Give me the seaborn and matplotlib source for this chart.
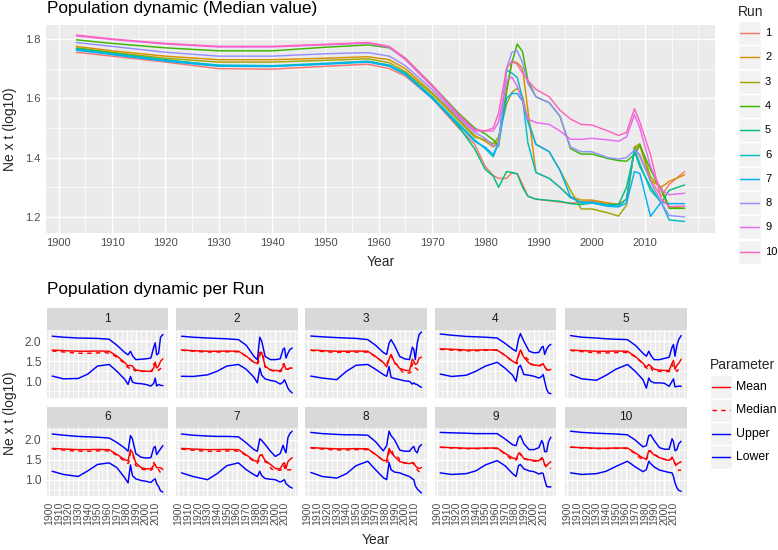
import numpy as np
import pandas as pd
import matplotlib
matplotlib.use("Agg")
import matplotlib.pyplot as plt
import seaborn as sns
from matplotlib.patches import Rectangle
from matplotlib.lines import Line2D

# ---------------- data ----------------
runs = [str(i) for i in range(1, 11)]
run_colors = ["#F8766D", "#D89000", "#A3A500", "#39B600", "#00BF7D",
              "#00BFC4", "#00B0F6", "#9590FF", "#E76BF3", "#FF62BC"]

years_med = [1903.3, 1910, 1920, 1930, 1940, 1950, 1958, 1962, 1965, 1970, 1975, 1978, 1980,
             1981.5, 1982.5, 1984, 1985, 1986, 1987, 1988, 1989.5, 1992, 1994, 1996, 1998,
             2000, 2003, 2005, 2006.5, 2008, 2009, 2011, 2013, 2014.5, 2017.4]

med_1 = [1.755, 1.742, 1.722, 1.700, 1.698, 1.708, 1.715, 1.700, 1.675, 1.600, 1.500, 1.445, 1.370,
         1.340, 1.330, 1.330, 1.349, 1.346, 1.310, 1.270, 1.260, 1.255, 1.250, 1.247, 1.250,
         1.253, 1.247, 1.242, 1.259, 1.436, 1.403, 1.324, 1.270, 1.310, 1.353]
med_2 = [1.775, 1.760, 1.742, 1.730, 1.730, 1.735, 1.740, 1.730, 1.700, 1.620, 1.530, 1.475, 1.455,
         1.436, 1.460, 1.620, 1.725, 1.720, 1.700, 1.560, 1.350, 1.330, 1.300, 1.268, 1.257,
         1.257, 1.247, 1.242, 1.260, 1.430, 1.440, 1.324, 1.300, 1.320, 1.342]
med_3 = [1.770, 1.755, 1.735, 1.722, 1.722, 1.728, 1.733, 1.720, 1.690, 1.615, 1.525, 1.470, 1.460,
         1.447, 1.470, 1.580, 1.620, 1.634, 1.605, 1.530, 1.445, 1.420, 1.358, 1.290, 1.227,
         1.227, 1.214, 1.203, 1.240, 1.436, 1.447, 1.335, 1.300, 1.234, 1.229]
med_4 = [1.797, 1.785, 1.770, 1.760, 1.760, 1.772, 1.780, 1.770, 1.735, 1.645, 1.550, 1.500, 1.480,
         1.460, 1.437, 1.630, 1.720, 1.783, 1.757, 1.660, 1.605, 1.585, 1.540, 1.430, 1.412,
         1.412, 1.397, 1.390, 1.388, 1.410, 1.442, 1.360, 1.290, 1.229, 1.229]
med_5 = [1.768, 1.752, 1.730, 1.710, 1.708, 1.716, 1.724, 1.710, 1.685, 1.605, 1.505, 1.430, 1.360,
         1.338, 1.300, 1.353, 1.350, 1.345, 1.300, 1.270, 1.260, 1.256, 1.253, 1.245, 1.242,
         1.247, 1.242, 1.242, 1.300, 1.420, 1.370, 1.302, 1.247, 1.290, 1.308]
med_6 = [1.765, 1.750, 1.728, 1.712, 1.710, 1.718, 1.725, 1.712, 1.685, 1.605, 1.515, 1.460, 1.430,
         1.403, 1.450, 1.695, 1.685, 1.670, 1.600, 1.450, 1.350, 1.330, 1.300, 1.265, 1.250,
         1.250, 1.240, 1.236, 1.260, 1.430, 1.380, 1.290, 1.250, 1.190, 1.185]
med_7 = [1.762, 1.747, 1.725, 1.708, 1.707, 1.715, 1.722, 1.708, 1.680, 1.600, 1.510, 1.455, 1.435,
         1.410, 1.450, 1.600, 1.616, 1.616, 1.590, 1.520, 1.445, 1.420, 1.358, 1.268, 1.247,
         1.247, 1.236, 1.234, 1.247, 1.353, 1.347, 1.202, 1.250, 1.245, 1.245]
med_8 = [1.788, 1.775, 1.755, 1.742, 1.742, 1.750, 1.754, 1.742, 1.710, 1.630, 1.535, 1.485, 1.465,
         1.440, 1.440, 1.700, 1.755, 1.760, 1.720, 1.650, 1.605, 1.585, 1.540, 1.436, 1.420,
         1.420, 1.400, 1.395, 1.400, 1.425, 1.410, 1.320, 1.250, 1.205, 1.200]
med_9 = [1.810, 1.798, 1.783, 1.773, 1.773, 1.780, 1.786, 1.772, 1.730, 1.640, 1.540, 1.490, 1.490,
         1.490, 1.520, 1.660, 1.672, 1.640, 1.590, 1.530, 1.518, 1.512, 1.490, 1.462, 1.462,
         1.465, 1.460, 1.455, 1.470, 1.545, 1.500, 1.370, 1.290, 1.275, 1.280]
med_10 = [1.813, 1.800, 1.785, 1.775, 1.775, 1.782, 1.788, 1.775, 1.735, 1.645, 1.545, 1.495, 1.490,
          1.500, 1.550, 1.700, 1.725, 1.715, 1.685, 1.660, 1.630, 1.605, 1.560, 1.530, 1.512,
          1.510, 1.490, 1.475, 1.485, 1.565, 1.520, 1.410, 1.260, 1.235, 1.237]

years_fac = [1903.3, 1915, 1930, 1940, 1950, 1962, 1970, 1978, 1981.5, 1984, 1986, 1989.5,
             1995, 2000, 2005, 2008, 2009.5, 2011, 2013, 2015, 2017.4]

upper_1 = [2.125, 2.10, 2.08, 2.075, 2.07, 2.05, 1.90, 1.72, 1.66, 1.75, 1.64, 1.54, 1.55, 1.56, 1.58, 1.85, 1.96, 1.66, 1.70, 2.10, 2.17]
lower_1 = [1.13, 1.06, 1.07, 1.18, 1.38, 1.42, 1.25, 1.05, 0.92, 1.12, 0.98, 0.95, 0.94, 0.92, 0.88, 0.95, 1.08, 0.88, 0.92, 0.90, 0.89]
mean_1 = [1.78, 1.765, 1.75, 1.75, 1.755, 1.75, 1.63, 1.47, 1.38, 1.40, 1.38, 1.28, 1.26, 1.25, 1.25, 1.33, 1.48, 1.33, 1.38, 1.50, 1.56]

upper_2 = [2.125, 2.10, 2.08, 2.07, 2.06, 2.04, 1.90, 1.62, 1.54, 2.10, 2.00, 1.62, 1.54, 1.54, 1.56, 1.80, 1.83, 1.58, 1.70, 1.79, 1.83]
lower_2 = [1.125, 1.12, 1.16, 1.25, 1.38, 1.42, 1.30, 1.10, 0.96, 1.33, 1.15, 1.06, 1.02, 1.00, 0.93, 0.98, 1.04, 0.95, 0.83, 0.76, 0.71]
mean_2 = [1.78, 1.765, 1.75, 1.75, 1.755, 1.75, 1.63, 1.47, 1.45, 1.72, 1.72, 1.38, 1.28, 1.27, 1.26, 1.36, 1.40, 1.30, 1.30, 1.33, 1.33]

upper_3 = [2.13, 2.11, 2.09, 2.08, 2.07, 2.04, 1.90, 1.72, 1.67, 1.95, 2.04, 1.90, 1.62, 1.56, 1.54, 1.85, 1.80, 1.54, 1.95, 2.17, 2.23]
lower_3 = [1.13, 1.08, 1.04, 1.25, 1.40, 1.42, 1.30, 1.17, 1.125, 1.37, 1.10, 1.07, 1.04, 1.01, 1.00, 0.93, 0.96, 0.93, 0.92, 0.88, 0.85]
mean_3 = [1.78, 1.765, 1.75, 1.75, 1.755, 1.75, 1.62, 1.47, 1.36, 1.55, 1.67, 1.48, 1.32, 1.28, 1.26, 1.55, 1.50, 1.42, 1.45, 1.58, 1.60]

upper_4 = [2.18, 2.15, 2.12, 2.11, 2.10, 2.08, 1.95, 1.80, 1.75, 2.05, 2.19, 2.00, 1.75, 1.71, 1.72, 1.85, 1.87, 1.67, 1.80, 1.88, 1.92]
lower_4 = [1.18, 1.12, 1.15, 1.25, 1.38, 1.475, 1.33, 1.15, 1.00, 1.35, 1.40, 1.17, 1.15, 1.125, 1.08, 1.12, 1.17, 1.00, 0.80, 0.71, 0.69]
mean_4 = [1.81, 1.80, 1.78, 1.78, 1.785, 1.78, 1.65, 1.50, 1.45, 1.65, 1.78, 1.60, 1.45, 1.41, 1.39, 1.42, 1.44, 1.36, 1.30, 1.27, 1.30]

upper_5 = [2.14, 2.10, 2.08, 2.06, 2.05, 2.04, 1.90, 1.70, 1.625, 1.75, 1.65, 1.54, 1.54, 1.57, 1.60, 1.85, 1.92, 1.625, 1.90, 2.05, 2.14]
lower_5 = [1.17, 1.06, 1.025, 1.15, 1.30, 1.42, 1.25, 1.04, 0.83, 1.08, 1.00, 0.96, 0.96, 0.95, 0.875, 1.00, 1.06, 0.86, 0.87, 0.88, 0.875]
mean_5 = [1.78, 1.765, 1.75, 1.75, 1.755, 1.75, 1.62, 1.45, 1.35, 1.42, 1.38, 1.30, 1.28, 1.27, 1.27, 1.45, 1.52, 1.30, 1.40, 1.45, 1.55]

upper_6 = [2.14, 2.11, 2.08, 2.07, 2.06, 2.04, 1.93, 1.79, 1.71, 2.10, 2.02, 1.65, 1.56, 1.54, 1.55, 1.80, 1.83, 1.625, 1.70, 1.77, 1.85]
lower_6 = [1.21, 1.13, 1.08, 1.22, 1.38, 1.42, 1.30, 1.05, 0.92, 1.37, 1.10, 1.02, 0.98, 0.96, 0.93, 1.00, 1.02, 0.90, 0.83, 0.72, 0.69]
mean_6 = [1.78, 1.765, 1.75, 1.75, 1.755, 1.75, 1.63, 1.50, 1.47, 1.75, 1.68, 1.42, 1.30, 1.27, 1.27, 1.36, 1.38, 1.30, 1.30, 1.30, 1.25]

upper_7 = [2.14, 2.11, 2.09, 2.08, 2.08, 2.07, 1.92, 1.75, 1.71, 2.02, 1.98, 1.88, 1.71, 1.58, 1.65, 1.86, 1.75, 1.67, 2.05, 2.15, 2.21]
lower_7 = [1.17, 1.08, 1.00, 1.15, 1.35, 1.42, 1.25, 1.125, 1.08, 1.21, 1.10, 1.03, 1.01, 1.00, 0.94, 0.98, 1.00, 0.90, 0.86, 0.82, 0.79]
mean_7 = [1.78, 1.765, 1.75, 1.75, 1.755, 1.75, 1.62, 1.48, 1.45, 1.60, 1.62, 1.48, 1.38, 1.28, 1.27, 1.40, 1.42, 1.28, 1.45, 1.50, 1.55]

upper_8 = [2.18, 2.15, 2.13, 2.12, 2.12, 2.11, 1.95, 1.72, 1.85, 2.21, 2.10, 2.00, 1.74, 1.71, 1.71, 1.80, 1.83, 1.72, 1.67, 1.82, 1.875]
lower_8 = [1.18, 1.08, 1.04, 1.15, 1.35, 1.46, 1.25, 1.05, 1.00, 1.43, 1.25, 1.19, 1.17, 1.12, 1.08, 1.02, 1.00, 0.85, 0.77, 0.72, 0.67]
mean_8 = [1.80, 1.785, 1.77, 1.77, 1.775, 1.77, 1.63, 1.48, 1.48, 1.78, 1.68, 1.58, 1.45, 1.42, 1.40, 1.42, 1.42, 1.35, 1.30, 1.28, 1.30]

upper_9 = [2.18, 2.17, 2.16, 2.15, 2.15, 2.15, 2.02, 1.87, 1.85, 2.05, 2.10, 1.90, 1.75, 1.75, 1.80, 1.98, 1.90, 1.70, 1.70, 1.95, 2.06]
lower_9 = [1.17, 1.13, 1.15, 1.22, 1.37, 1.475, 1.35, 1.15, 1.08, 1.35, 1.38, 1.27, 1.22, 1.20, 1.14, 1.17, 1.15, 1.00, 0.83, 0.82, 0.82]
mean_9 = [1.81, 1.80, 1.785, 1.785, 1.79, 1.79, 1.66, 1.54, 1.52, 1.65, 1.65, 1.53, 1.50, 1.48, 1.47, 1.55, 1.50, 1.38, 1.35, 1.40, 1.45]

upper_10 = [2.21, 2.18, 2.16, 2.15, 2.14, 2.12, 1.99, 1.82, 1.85, 2.10, 2.12, 1.98, 1.80, 1.76, 1.76, 2.02, 1.95, 1.72, 1.75, 1.90, 1.96]
lower_10 = [1.17, 1.13, 1.15, 1.21, 1.33, 1.46, 1.32, 1.20, 1.25, 1.46, 1.40, 1.32, 1.24, 1.21, 1.18, 1.17, 1.08, 0.92, 0.80, 0.73, 0.71]
mean_10 = [1.81, 1.80, 1.785, 1.785, 1.79, 1.79, 1.67, 1.54, 1.52, 1.72, 1.70, 1.62, 1.55, 1.51, 1.48, 1.55, 1.50, 1.40, 1.38, 1.42, 1.45]

x_major = list(range(1900, 2011, 10))
x_labels = [str(v) for v in x_major]

medians = [med_1, med_2, med_3, med_4, med_5, med_6, med_7, med_8, med_9, med_10]
uppers = [upper_1, upper_2, upper_3, upper_4, upper_5, upper_6, upper_7, upper_8, upper_9, upper_10]
lowers = [lower_1, lower_2, lower_3, lower_4, lower_5, lower_6, lower_7, lower_8, lower_9, lower_10]
means = [mean_1, mean_2, mean_3, mean_4, mean_5, mean_6, mean_7, mean_8, mean_9, mean_10]

params = ["Mean", "Median", "Upper", "Lower"]
param_colors = {"Mean": "red", "Median": "red", "Upper": "blue", "Lower": "blue"}

# ---------------- style ----------------
sns.set_style("white")
plt.rcParams["font.family"] = ["Liberation Sans", "DejaVu Sans"]

W, H = 778, 550
fig = plt.figure(figsize=(W / 100, H / 100), dpi=100)
fig.patch.set_facecolor("white")


def fx(px):
    return px / W


def fy(py):
    return 1 - py / H


def add_ax(x0, y0, x1, y1):
    return fig.add_axes([fx(x0), fy(y1), fx(x1) - fx(x0), fy(y0) - fy(y1)])


XLIM = (1897.6, 2023.1)
x_minor = [v for v in range(1905, 2021, 5) if v % 10 != 0 or v == 2020]


def style_ax(ax, ylim, yticks, yminor, show_x, show_y, rot=0, xsize=8.0, ysize=8.0):
    ax.set_facecolor("#EBEBEB")
    for s in ax.spines.values():
        s.set_visible(False)
    ax.set_xlim(*XLIM)
    ax.set_ylim(*ylim)
    ax.set_xticks(x_major)
    ax.set_xticks(x_minor, minor=True)
    ax.set_yticks(yticks)
    ax.set_yticks(yminor, minor=True)
    ax.grid(which="major", color="white", linewidth=1.0)
    ax.grid(which="minor", color="white", linewidth=0.5)
    ax.set_axisbelow(True)
    ax.tick_params(which="minor", length=0)
    ax.tick_params(which="major", length=2.3, width=0.8, color="#333333",
                   labelcolor="#4D4D4D", pad=1.5)
    ax.tick_params(axis="x", labelsize=xsize)
    ax.tick_params(axis="y", labelsize=ysize)
    if show_x:
        ax.set_xticklabels(x_labels, rotation=rot)
    else:
        ax.tick_params(axis="x", which="major", length=0, labelbottom=False)
    if show_y:
        ax.set_yticklabels([f"{v:.1f}" for v in yticks])
    else:
        ax.tick_params(axis="y", which="major", length=0, labelleft=False)
    ax.set_xlabel("")
    ax.set_ylabel("")


# ---------------- top panel ----------------
top_rows = []
for r, med in zip(runs, medians):
    for yv, v in zip(years_med, med):
        top_rows.append({"Year": yv, "Value": v, "Run": r})
df_top = pd.DataFrame(top_rows)

ax_top = add_ax(46, 25, 715, 233)
sns.lineplot(data=df_top, x="Year", y="Value", hue="Run", hue_order=runs,
             palette=dict(zip(runs, run_colors)), estimator=None, sort=False,
             linewidth=1.05, legend=False, ax=ax_top)
style_ax(ax_top, (1.146, 1.847), [1.2, 1.4, 1.6, 1.8], [1.3, 1.5, 1.7], True, True,
         xsize=8.0, ysize=8.0)

fig.text(fx(47), fy(13), "Population dynamic (Median value)", fontsize=12.4,
         color="black", ha="left", va="baseline")
fig.text(fx(381), fy(262), "Year", fontsize=10, ha="center", va="center")
fig.text(fx(10), fy(129), "Ne x t (log10)", fontsize=10, ha="center", va="center",
         rotation=90)

# top legend
fig.text(fx(738), fy(12), "Run", fontsize=10, ha="left", va="center")
for i, (r, c) in enumerate(zip(runs, run_colors)):
    cy = 33 + i * 24.3
    fig.add_artist(Rectangle((fx(738), fy(cy + 12)), fx(761) - fx(738), fy(cy - 12) - fy(cy + 12),
                             transform=fig.transFigure, facecolor="#F2F2F2",
                             edgecolor="white", linewidth=1.0))
    fig.add_artist(Line2D([fx(740), fx(759)], [fy(cy), fy(cy)], transform=fig.transFigure,
                          color=c, linewidth=1.05))
    fig.text(fx(765), fy(cy), r, fontsize=8.0, ha="left", va="center", color="black")

# ---------------- facets ----------------
fig.text(fx(47), fy(294), "Population dynamic per Run", fontsize=12.4,
         color="black", ha="left", va="baseline")

col_x = [46.7, 176.0, 305.3, 434.7, 565.0]
panel_w = 121.7
strip_top = [308.3, 406.7]
strip_h = 21.3
panel_h = 68.3

for idx, r in enumerate(runs):
    row, col = divmod(idx, 5)
    x0 = col_x[col]
    s0 = strip_top[row]
    p0 = s0 + strip_h
    rows = []
    for yv, v in zip(years_fac, means[idx]):
        rows.append({"Year": yv, "Value": v, "Parameter": "Mean"})
    for yv, v in zip(years_med, medians[idx]):
        rows.append({"Year": yv, "Value": v, "Parameter": "Median"})
    for yv, v in zip(years_fac, uppers[idx]):
        rows.append({"Year": yv, "Value": v, "Parameter": "Upper"})
    for yv, v in zip(years_fac, lowers[idx]):
        rows.append({"Year": yv, "Value": v, "Parameter": "Lower"})
    df_f = pd.DataFrame(rows)

    ax = add_ax(x0, p0, x0 + panel_w, p0 + panel_h)
    sns.lineplot(data=df_f, x="Year", y="Value", hue="Parameter", style="Parameter",
                 hue_order=params, style_order=params, palette=param_colors,
                 dashes={"Mean": "", "Median": (3, 3), "Upper": "", "Lower": ""},
                 estimator=None, sort=False, linewidth=1.05, legend=False, ax=ax)
    style_ax(ax, (0.585, 2.29), [1.0, 1.5, 2.0], [0.75, 1.25, 1.75, 2.25],
             show_x=(row == 1), show_y=(col == 0), rot=90, xsize=7.6, ysize=8.6)

    sax = add_ax(x0, s0, x0 + panel_w, s0 + strip_h)
    sax.set_facecolor("#D9D9D9")
    for s in sax.spines.values():
        s.set_visible(False)
    sax.set_xticks([])
    sax.set_yticks([])
    sax.text(0.5, 0.5, r, transform=sax.transAxes, ha="center", va="center",
             fontsize=8.6, color="#1A1A1A")

fig.text(fx(376), fy(540), "Year", fontsize=10, ha="center", va="center")
fig.text(fx(10), fy(413), "Ne x t (log10)", fontsize=10, ha="center", va="center",
         rotation=90)

# bottom legend
fig.text(fx(710), fy(365), "Parameter", fontsize=10, ha="left", va="center")
for i, p in enumerate(params):
    cy = 387 + i * 23.3
    fig.add_artist(Rectangle((fx(710), fy(cy + 11.6)), fx(732) - fx(710),
                             fy(cy - 11.6) - fy(cy + 11.6),
                             transform=fig.transFigure, facecolor="#F2F2F2",
                             edgecolor="white", linewidth=1.0))
    ls = (0, (3, 3)) if p == "Median" else "-"
    fig.add_artist(Line2D([fx(712), fx(730)], [fy(cy), fy(cy)], transform=fig.transFigure,
                          color=param_colors[p], linewidth=1.05, linestyle=ls))
    fig.text(fx(736), fy(cy), p, fontsize=8.8, ha="left", va="center", color="black")

fig.savefig("out.png", dpi=100)
